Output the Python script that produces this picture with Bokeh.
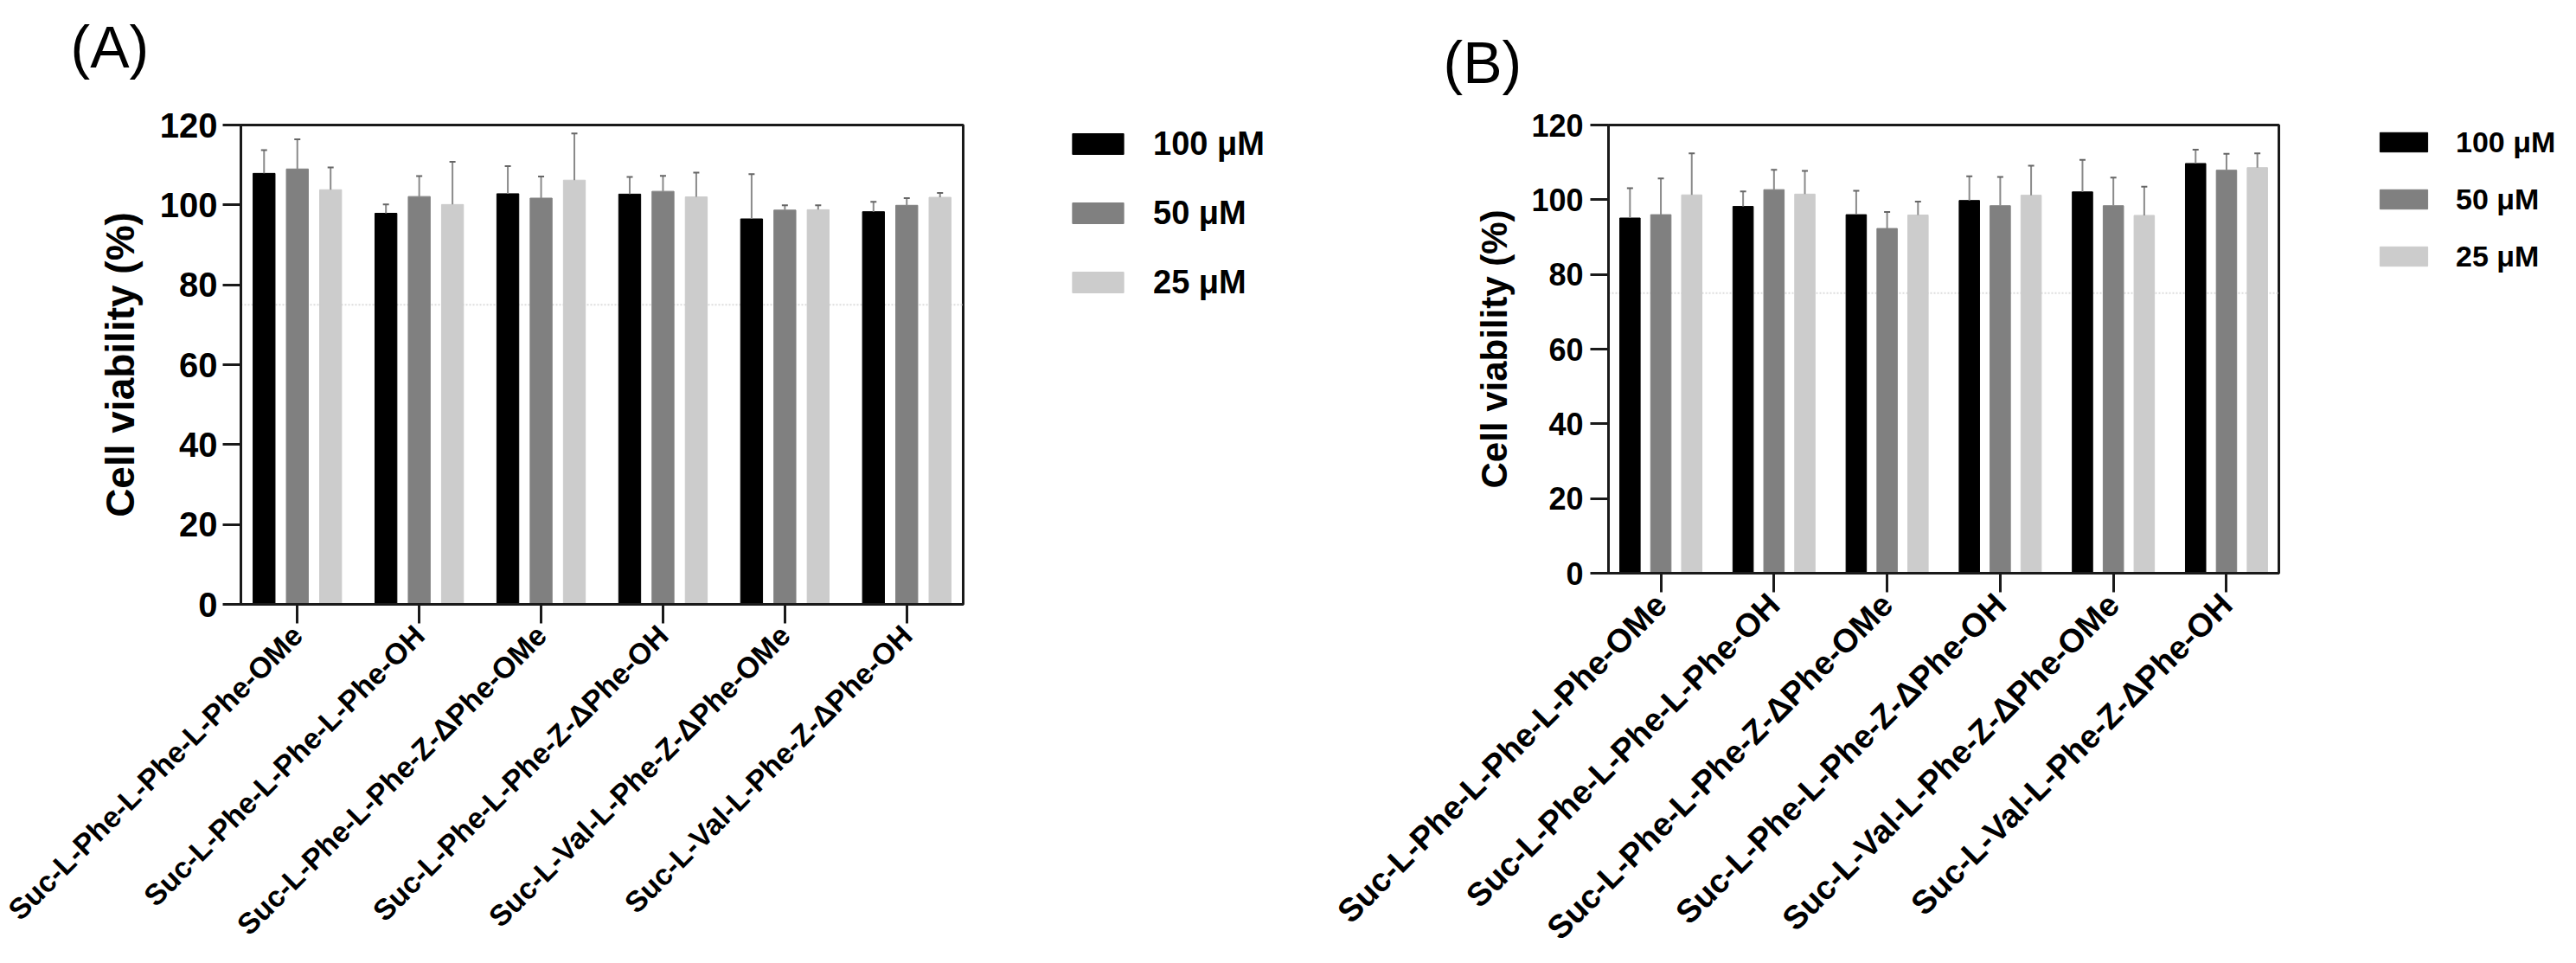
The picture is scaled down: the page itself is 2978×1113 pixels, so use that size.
import math
from bokeh.plotting import figure
from bokeh.models import (ColumnDataSource, Span, Whisker, TeeHead, Legend, LegendItem,
                          FixedTicker, Title)
from bokeh.layouts import row
from bokeh.embed import file_html
from bokeh.resources import INLINE

compounds = [
    "Suc-L-Phe-L-Phe-L-Phe-OMe",
    "Suc-L-Phe-L-Phe-L-Phe-OH",
    "Suc-L-Phe-L-Phe-Z-\u0394Phe-OMe",
    "Suc-L-Phe-L-Phe-Z-\u0394Phe-OH",
    "Suc-L-Val-L-Phe-Z-\u0394Phe-OMe",
    "Suc-L-Val-L-Phe-Z-\u0394Phe-OH",
]
series_names = ["100 \u03bcM", "50 \u03bcM", "25 \u03bcM"]
series_colors = ["#000000", "#808080", "#cccccc"]
y_ticks = [0, 20, 40, 60, 80, 100, 120]
threshold = 75

# Panel A means and SDs (100, 50, 25 uM)
a_100 = [107.9, 97.9, 102.8, 102.7, 96.5, 98.3]
a_50 = [109.0, 102.1, 101.7, 103.4, 98.7, 99.9]
a_25 = [103.8, 100.1, 106.2, 102.0, 98.8, 101.9]
a_100_sd = [5.8, 2.2, 6.9, 4.3, 11.2, 2.5]
a_50_sd = [7.4, 5.1, 5.4, 3.9, 1.2, 1.8]
a_25_sd = [5.6, 10.7, 11.7, 6.1, 1.1, 1.1]

# Panel B
b_100 = [95.1, 98.2, 96.0, 99.8, 102.1, 109.7]
b_50 = [96.0, 102.7, 92.3, 98.4, 98.4, 107.9]
b_25 = [101.3, 101.5, 95.9, 101.2, 95.8, 108.6]
b_100_sd = [8.0, 4.0, 6.4, 6.5, 8.6, 3.7]
b_50_sd = [9.7, 5.3, 4.4, 7.7, 7.5, 4.4]
b_25_sd = [11.1, 6.2, 3.6, 7.9, 7.7, 3.8]

FONT = "Liberation Sans"
AXIS_COLOR = "#1a1a1a"
H = 1097
OFFSETS = [-0.273, 0.0, 0.273]


def spacer(gap):
    return Title(text=" ", text_font_size="1px", standoff=gap)


def make_panel(tag, means, sds, cfg):
    p = figure(
        frame_width=cfg["fw"], frame_height=cfg["fh"],
        x_range=(-0.463, 5.463), y_range=(0, 120),
        output_backend="svg", toolbar_location=None,
        min_border_left=cfg["left"], min_border_right=4,
        min_border_top=0, min_border_bottom=H - cfg["top"] - cfg["fh"],
    )
    p.background_fill_color = "white"
    p.border_fill_color = "white"
    p.outline_line_color = AXIS_COLOR
    p.outline_line_width = 3
    p.xgrid.grid_line_color = None
    p.ygrid.grid_line_color = None

    # above panel, from the frame outward: gap, tag, top gap
    p.add_layout(spacer(cfg["gap_below"]), "above")
    p.add_layout(Title(text=tag, align="left", offset=cfg["tag_offset"], standoff=0,
                       vertical_align="bottom", text_font=FONT, text_font_size="68px",
                       text_font_style="normal", text_color="#000000"), "above")
    if cfg["gap_above"] > 0:
        p.add_layout(spacer(cfg["gap_above"]), "above")

    p.add_layout(Span(location=threshold, dimension="width", line_color="#dddddd",
                      line_width=2, line_dash="2 2", level="underlay"))

    for k in range(3):
        xs = [i + OFFSETS[k] for i in range(len(compounds))]
        src = ColumnDataSource(dict(x=xs, top=means[k],
                                    upper=[m + s for m, s in zip(means[k], sds[k])]))
        p.vbar(x="x", top="top", width=0.18, bottom=0, source=src,
               fill_color=series_colors[k], line_color=series_colors[k], line_width=1)
        w = Whisker(base="x", lower="top", upper="upper", source=src, dimension="height",
                    line_color="#8a8a8a", line_width=2,
                    upper_head=TeeHead(size=7, line_color="#666666", line_width=2),
                    lower_head=None, level="glyph")
        p.add_layout(w)

    for ax in (p.xaxis[0], p.yaxis[0]):
        ax.axis_line_color = AXIS_COLOR
        ax.axis_line_width = 3
        ax.major_tick_line_color = AXIS_COLOR
        ax.major_tick_line_width = 3
        ax.minor_tick_line_color = None
        ax.major_tick_in = 0
        ax.major_label_text_font = FONT
        ax.major_label_text_font_style = "bold"
        ax.major_label_text_color = "#000000"

    p.yaxis.ticker = FixedTicker(ticks=y_ticks)
    p.yaxis.major_tick_out = 21
    p.yaxis.major_label_text_font_size = cfg["ytick_size"]
    p.yaxis.major_label_standoff = cfg["ytick_standoff"]
    p.yaxis.axis_label = "Cell viability (%)"
    p.yaxis.axis_label_text_font = FONT
    p.yaxis.axis_label_text_font_style = "bold"
    p.yaxis.axis_label_text_font_size = cfg["ylabel_size"]
    p.yaxis.axis_label_standoff = cfg["ylabel_standoff"]
    p.yaxis.axis_label_text_color = "#000000"

    p.xaxis.ticker = FixedTicker(ticks=list(range(len(compounds))))
    p.xaxis.major_label_overrides = {i: c for i, c in enumerate(compounds)}
    p.xaxis.major_label_orientation = math.pi / 4
    p.xaxis.major_tick_out = 22
    p.xaxis.major_label_text_font_size = cfg["xtick_size"]
    p.xaxis.major_label_standoff = 8
    return p


def make_legend(means, cfg):
    q = figure(width=cfg["lw"], height=H, x_axis_type=None, y_axis_type=None,
               x_range=(0, 1), y_range=(0, 1),
               output_backend="svg", toolbar_location=None,
               min_border_left=cfg["lx"], min_border_top=cfg["ly"],
               min_border_right=0, min_border_bottom=0)
    q.outline_line_color = None
    q.background_fill_color = "white"
    q.border_fill_color = "white"
    proxies = []
    for k in range(3):
        xs = [i + OFFSETS[k] for i in range(len(compounds))]
        r = q.vbar(x=xs, top=means[k], width=0.18, fill_color=series_colors[k],
                   line_color=series_colors[k])
        r.visible = False  # legend key only
        proxies.append(r)
    legend = Legend(
        items=[LegendItem(label=series_names[k], renderers=[proxies[k]]) for k in range(3)],
        location="top_left", orientation="vertical",
        glyph_width=cfg["glyph_w"], glyph_height=cfg["glyph_h"],
        label_height=cfg["label_h"], spacing=cfg["spacing"],
        label_standoff=cfg["label_standoff"],
        label_text_font=FONT, label_text_font_style="bold",
        label_text_font_size=cfg["legend_size"], label_text_color="#000000",
        padding=0, margin=0, inactive_fill_alpha=0,
        border_line_color=None, background_fill_alpha=0,
    )
    q.add_layout(legend, "center")
    return q


cfg_a = dict(fw=835, fh=554, left=278, top=131, gap_below=50, gap_above=2, tag_offset=-197,
             ytick_size="40px", ytick_standoff=6, ylabel_size="46px", ylabel_standoff=17,
             xtick_size="34px")
leg_a = dict(lw=363, lx=115, ly=143, glyph_w=74, glyph_h=30, label_h=44, spacing=36,
             label_standoff=27, legend_size="38px")
cfg_b = dict(fw=775, fh=518, left=379, top=125, gap_below=32, gap_above=11, tag_offset=-191,
             ytick_size="36px", ytick_standoff=8, ylabel_size="42px", ylabel_standoff=16,
             xtick_size="38px")
leg_b = dict(lw=324, lx=106, ly=144, glyph_w=69, glyph_h=28, label_h=40, spacing=26,
             label_standoff=26, legend_size="34px")

pa = make_panel("(A)", [a_100, a_50, a_25], [a_100_sd, a_50_sd, a_25_sd], cfg_a)
pb = make_panel("(B)", [b_100, b_50, b_25], [b_100_sd, b_50_sd, b_25_sd], cfg_b)
la = make_legend([a_100, a_50, a_25], leg_a)
lb = make_legend([b_100, b_50, b_25], leg_b)

layout = row(pa, la, pb, lb, spacing=0)
open("out.html", "w").write(file_html(layout, INLINE))
